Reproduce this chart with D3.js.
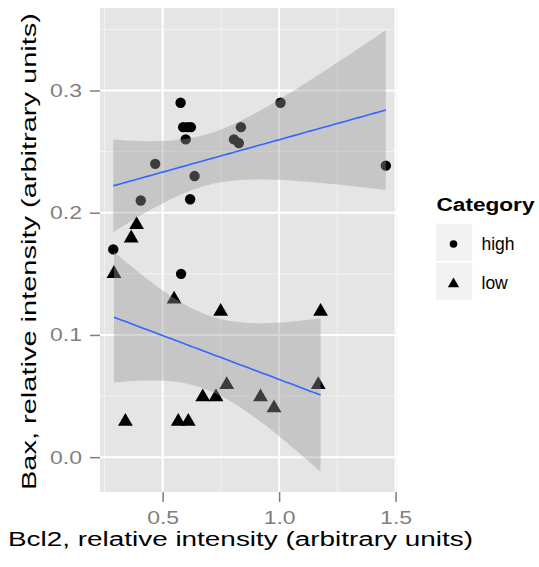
<!DOCTYPE html>
<html><head><meta charset="utf-8">
<script src="https://cdn.jsdelivr.net/npm/d3@7"></script>
<style>body{margin:0;background:#fff}svg{display:block;font-family:"Liberation Sans",Arial,sans-serif}</style>
</head><body><svg id="c" width="539" height="567"></svg>
<script>
const highX = [0.577,1.006,0.588,0.606,0.621,0.836,0.599,0.806,0.827,0.468,1.458,0.637,0.406,0.618,0.288,0.579];
const highY = [0.290,0.290,0.270,0.270,0.270,0.270,0.260,0.260,0.257,0.240,0.2385,0.230,0.210,0.211,0.170,0.150];
const lowX = [0.388,0.365,0.291,0.549,0.749,1.178,0.775,1.168,0.672,0.729,0.920,0.978,0.340,0.567,0.610];
const lowY = [0.191,0.180,0.151,0.130,0.120,0.120,0.060,0.060,0.050,0.050,0.050,0.041,0.030,0.030,0.030];
const categories = ["high","low"];
const xTicks = [0.5,1.0,1.5];
const yTicks = [0.0,0.1,0.2,0.3];
const tCrit = {14:2.144787, 13:2.160369, 12:2.178813};

const svg = d3.select("#c");
const L=100, T=8, W=297, H=484;
const x = d3.scaleLinear().domain([0.231,1.506]).range([L,L+W]);
const y = d3.scaleLinear().domain([-0.0285,0.3675]).range([T+H,T]);

svg.append("rect").attr("x",L).attr("y",T).attr("width",W).attr("height",H).attr("fill","#e5e5e5");
const g = svg.append("g");
const xMinor=[0.25,0.75,1.25], yMinor=[0.05,0.15,0.25,0.35];
g.selectAll(".xm").data(xMinor).join("line").attr("x1",d=>x(d)).attr("x2",d=>x(d)).attr("y1",T).attr("y2",T+H).attr("stroke","#f2f2f2").attr("stroke-width",1);
g.selectAll(".ym").data(yMinor).join("line").attr("y1",d=>y(d)).attr("y2",d=>y(d)).attr("x1",L).attr("x2",L+W).attr("stroke","#f2f2f2").attr("stroke-width",1);
g.selectAll(".xM").data(xTicks).join("line").attr("x1",d=>x(d)).attr("x2",d=>x(d)).attr("y1",T).attr("y2",T+H).attr("stroke","#fff").attr("stroke-width",2);
g.selectAll(".yM").data(yTicks).join("line").attr("y1",d=>y(d)).attr("y2",d=>y(d)).attr("x1",L).attr("x2",L+W).attr("stroke","#fff").attr("stroke-width",2);

const xAxis = svg.append("g").attr("transform",`translate(0,${T+H})`).call(d3.axisBottom(x).tickValues(xTicks).tickFormat(d3.format(".1f")).tickSize(10).tickPadding(9));
const yAxis = svg.append("g").attr("transform",`translate(${L},0)`).call(d3.axisLeft(y).tickValues(yTicks).tickFormat(d3.format(".1f")).tickSize(10).tickPadding(8));
[xAxis,yAxis].forEach(a=>{a.select(".domain").remove();a.selectAll("line").attr("stroke","#7f7f7f").attr("stroke-width",1.5);
 a.selectAll("text").attr("fill","#7f7f7f").attr("font-size",18.5).attr("font-family","Liberation Sans, Arial, sans-serif")
  .attr("textLength",32).attr("lengthAdjust","spacingAndGlyphs");});

const sym = {high:d3.symbol().type(d3.symbolCircle).size(85), low:d3.symbol().type(d3.symbolTriangle).size(95)};
const pts = g.append("g");
highX.forEach((v,i)=>pts.append("path").attr("d",sym.high()).attr("transform",`translate(${x(v)},${y(highY[i])})`).attr("fill","#000"));
lowX.forEach((v,i)=>pts.append("path").attr("d",sym.low()).attr("transform",`translate(${x(v)},${y(lowY[i])+1})`).attr("fill","#000"));

function fit(xs,ys){
  const n=xs.length, mx=d3.mean(xs), my=d3.mean(ys);
  let sxx=0,sxy=0; xs.forEach((v,i)=>{sxx+=(v-mx)**2;sxy+=(v-mx)*(ys[i]-my);});
  const b=sxy/sxx, a=my-b*mx;
  let sse=0; xs.forEach((v,i)=>{sse+=(ys[i]-a-b*v)**2;});
  const s=Math.sqrt(sse/(n-2)), t=tCrit[n-2];
  const lo=d3.min(xs), hi=d3.max(xs);
  return d3.range(81).map(k=>{const xv=lo+(hi-lo)*k/80; const f=a+b*xv; const se=s*Math.sqrt(1/n+(xv-mx)**2/sxx); return {x:xv,y:f,lo:f-t*se,hi:f+t*se};});
}
[[highX,highY],[lowX,lowY]].forEach(([xs,ys])=>{
  const d=fit(xs,ys);
  g.append("path").datum(d).attr("d",d3.area().x(p=>x(p.x)).y0(p=>y(p.lo)).y1(p=>y(p.hi))).attr("fill","#999999").attr("fill-opacity",0.4);
  g.append("path").datum(d).attr("d",d3.line().x(p=>x(p.x)).y(p=>y(p.y))).attr("fill","none").attr("stroke","#3366FF").attr("stroke-width",1.6);
});

svg.append("text").attr("x",240.5).attr("y",546).attr("text-anchor","middle").attr("font-size",19.5).attr("fill","#000")
  .attr("textLength",465).attr("lengthAdjust","spacingAndGlyphs").text("Bcl2, relative intensity (arbitrary units)");
svg.append("text").attr("transform",`translate(36,251.5) rotate(-90)`).attr("text-anchor","middle").attr("font-size",20).attr("fill","#000")
  .attr("textLength",477).attr("lengthAdjust","spacingAndGlyphs").text("Bax, relative intensity (arbitrary units)");

const lg = svg.append("g");
lg.append("text").attr("x",436.5).attr("y",211).attr("font-size",18).attr("font-weight","bold")
  .attr("textLength",98).attr("lengthAdjust","spacingAndGlyphs").text("Category");
categories.forEach((c,i)=>{
  const yy=223+i*39;
  lg.append("rect").attr("x",435).attr("y",yy).attr("width",38).attr("height",39).attr("fill","#f2f2f2").attr("stroke","#fff").attr("stroke-width",1.5);
  lg.append("path").attr("d",d3.symbol().type(c==="high"?d3.symbolCircle:d3.symbolTriangle).size(c==="high"?45:55)()).attr("transform",`translate(453.5,${yy+21+(c==="low"?1:0)})`).attr("fill","#000");
  lg.append("text").attr("x",481.5).attr("y",yy+27).attr("font-size",17.5).text(c);
});
</script></body></html>
